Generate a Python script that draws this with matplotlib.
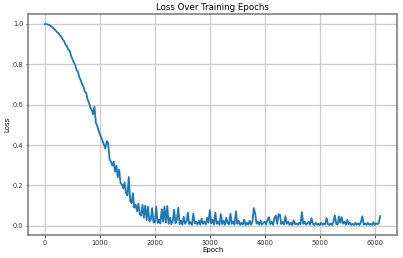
import matplotlib
matplotlib.use("Agg")
import matplotlib.pyplot as plt

# one value every 25 epochs
epochs = list(range(0, 6101, 25))

loss = [
    1.000, 0.999, 0.998, 0.995, 0.991, 0.986, 0.980, 0.973,  # 0
    0.966, 0.958, 0.952, 0.942, 0.936, 0.923, 0.914, 0.897,  # 200
    0.889, 0.872, 0.868, 0.842, 0.826, 0.809, 0.797, 0.773,  # 400
    0.762, 0.737, 0.722, 0.701, 0.690, 0.664, 0.659, 0.627,  # 600
    0.612, 0.588, 0.575, 0.552, 0.590, 0.512, 0.496, 0.472,  # 800
    0.455, 0.437, 0.418, 0.400, 0.383, 0.420, 0.409, 0.330,  # 1000
    0.318, 0.298, 0.318, 0.268, 0.298, 0.240, 0.278, 0.212,  # 1200
    0.205, 0.185, 0.215, 0.162, 0.150, 0.242, 0.124, 0.112,  # 1400
    0.162, 0.090, 0.105, 0.072, 0.110, 0.058, 0.050, 0.103,  # 1600
    0.040, 0.100, 0.028, 0.095, 0.022, 0.030, 0.088, 0.016,  # 1800
    0.018, 0.095, 0.015, 0.030, 0.012, 0.082, 0.020, 0.095,  # 2000
    0.015, 0.098, 0.010, 0.040, 0.008, 0.022, 0.080, 0.012,  # 2200
    0.030, 0.090, 0.008, 0.025, 0.006, 0.045, 0.010, 0.020,  # 2400
    0.065, 0.008, 0.018, 0.005, 0.060, 0.012, 0.020, 0.006,  # 2600
    0.025, 0.006, 0.035, 0.010, 0.020, 0.006, 0.040, 0.015,  # 2800
    0.078, 0.012, 0.030, 0.006, 0.065, 0.010, 0.020, 0.005,  # 3000
    0.058, 0.008, 0.025, 0.005, 0.040, 0.012, 0.008, 0.060,  # 3200
    0.010, 0.020, 0.006, 0.072, 0.010, 0.025, 0.005, 0.015,  # 3400
    0.006, 0.030, 0.004, 0.015, 0.006, 0.025, 0.005, 0.020,  # 3600
    0.088, 0.060, 0.010, 0.020, 0.005, 0.025, 0.006, 0.015,  # 3800
    0.020, 0.006, 0.030, 0.043, 0.008, 0.020, 0.005, 0.040,  # 4000
    0.050, 0.010, 0.057, 0.055, 0.008, 0.020, 0.006, 0.048,  # 4200
    0.010, 0.020, 0.005, 0.015, 0.004, 0.027, 0.008, 0.012,  # 4400
    0.005, 0.015, 0.008, 0.068, 0.010, 0.020, 0.005, 0.012,  # 4600
    0.020, 0.005, 0.038, 0.010, 0.004, 0.015, 0.005, 0.010,  # 4800
    0.004, 0.015, 0.005, 0.012, 0.006, 0.038, 0.008, 0.004,  # 5000
    0.012, 0.004, 0.020, 0.052, 0.010, 0.006, 0.047, 0.015,  # 5200
    0.043, 0.010, 0.020, 0.005, 0.030, 0.008, 0.015, 0.004,  # 5400
    0.010, 0.004, 0.015, 0.005, 0.012, 0.004, 0.020, 0.047,  # 5600
    0.006, 0.012, 0.004, 0.015, 0.005, 0.010, 0.004, 0.018,  # 5800
    0.005, 0.012, 0.008, 0.015, 0.048,                       # 6000
]

fig, ax = plt.subplots(figsize=(4.03, 2.58), dpi=100)
fig.subplots_adjust(left=0.07, right=0.985, top=0.946, bottom=0.089)

ax.plot(epochs, loss, color="#1f77b4", linewidth=1.3)

ax.set_title("Loss Over Training Epochs", fontsize=6.2, pad=3)
ax.set_xlabel("Epoch", fontsize=5.0, labelpad=1)
ax.set_ylabel("Loss", fontsize=5.0, labelpad=2)
ax.tick_params(labelsize=4.8, length=1.8, width=0.6, pad=1.5, colors="#333333")

ax.grid(True, color="#cccccc", linewidth=0.9)
for s in ax.spines.values():
    s.set_color("#777777")
    s.set_linewidth(1.1)

fig.savefig("out.png", dpi=100)
